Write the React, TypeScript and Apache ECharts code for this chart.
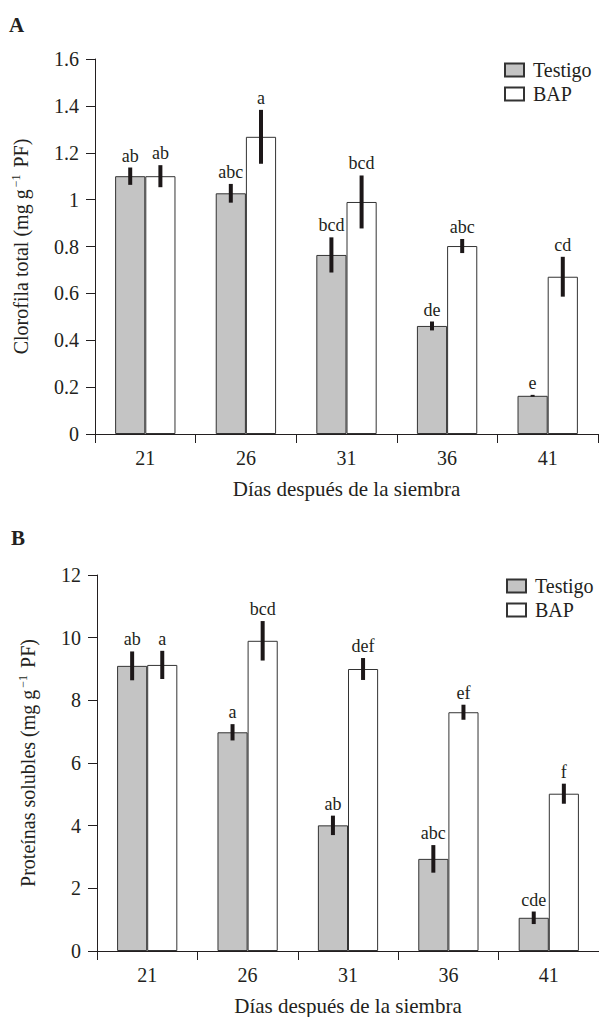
import React, { useEffect, useRef } from "react";
import * as echarts from "echarts";

const categories = ["21", "26", "31", "36", "41"];

const clorofilaTestigo = [1.1, 1.027, 0.764, 0.461, 0.163];
const clorofilaTestigoErr = [0.037, 0.04, 0.075, 0.019, 0.004];
const clorofilaTestigoLabels = ["ab", "abc", "bcd", "de", "e"];
const clorofilaBAP = [1.1, 1.268, 0.99, 0.802, 0.671];
const clorofilaBAPErr = [0.047, 0.115, 0.113, 0.03, 0.085];
const clorofilaBAPLabels = ["ab", "a", "bcd", "abc", "cd"];

const proteinasTestigo = [9.1, 6.98, 4.01, 2.94, 1.06];
const proteinasTestigoErr = [0.46, 0.26, 0.31, 0.44, 0.2];
const proteinasTestigoLabels = ["ab", "a", "ab", "abc", "cde"];
const proteinasBAP = [9.13, 9.9, 9.0, 7.62, 5.02];
const proteinasBAPErr = [0.45, 0.63, 0.35, 0.24, 0.32];
const proteinasBAPLabels = ["a", "bcd", "def", "ef", "f"];

const seriesNames = ["Testigo", "BAP"];
const xName = "Días después de la siembra";

const FONT = '"Liberation Serif", "Times New Roman", serif';
const INK = "#231f20";

function errSeries(
  gridIdx: number,
  values: number[],
  errs: number[],
  labels: string[],
  sign: number
) {
  return {
    type: "custom",
    xAxisIndex: gridIdx,
    yAxisIndex: gridIdx,
    z: 5,
    silent: true,
    encode: { x: 0, y: 1 },
    data: values.map((v, i) => [i, v, errs[i]]),
    renderItem: (params: any, api: any) => {
      const i = api.value(0);
      const v = api.value(1);
      const e = api.value(2);
      const band = api.size([1, 0])[0];
      const x = api.coord([i, v])[0] + sign * band * 0.15;
      const top = api.coord([i, v + e])[1];
      const bot = api.coord([i, v - e])[1];
      return {
        type: "group",
        children: [
          {
            type: "line",
            shape: { x1: x, y1: top, x2: x, y2: Math.max(bot, top + 1.5) },
            style: { stroke: "#1c1718", lineWidth: 4 },
          },
          {
            type: "text",
            x: x,
            y: top - 3,
            style: {
              text: labels[params.dataIndex],
              align: "center",
              verticalAlign: "bottom",
              fontSize: 18,
              fontFamily: FONT,
              fill: INK,
            },
          },
        ],
      };
    },
  };
}

function barSeries(gridIdx: number, name: string, values: number[], color: string) {
  return {
    type: "bar",
    name,
    xAxisIndex: gridIdx,
    yAxisIndex: gridIdx,
    data: values,
    barWidth: "30%",
    barGap: "0%",
    itemStyle: { color, borderColor: "#333333", borderWidth: 1 },
  };
}

function xAxis(gridIdx: number) {
  return {
    type: "category",
    gridIndex: gridIdx,
    data: categories,
    axisLine: { show: true, lineStyle: { color: INK, width: 1 } },
    axisTick: { show: true, length: 9, alignWithLabel: false, lineStyle: { color: INK } },
    axisLabel: { margin: 14, fontSize: 20, fontFamily: FONT, color: INK },
    splitLine: { show: false },
    name: xName,
    nameLocation: "middle",
    nameGap: 44,
    nameTextStyle: { fontSize: 21, fontFamily: FONT, color: INK },
  };
}

function yAxis(gridIdx: number, max: number, interval: number, label: string, gap: number) {
  return {
    type: "value",
    gridIndex: gridIdx,
    min: 0,
    max,
    interval,
    axisLine: { show: true, lineStyle: { color: INK, width: 1 } },
    axisTick: { show: true, length: 9, lineStyle: { color: INK } },
    axisLabel: { margin: 16, fontSize: 20, fontFamily: FONT, color: INK },
    splitLine: { show: false },
    name: `{n|${label} (mg g}{s|−1}{n| PF)}`,
    nameLocation: "middle",
    nameGap: gap,
    nameTextStyle: {
      rich: {
        n: { fontSize: 20, fontFamily: FONT, color: INK, lineHeight: 22 },
        s: { fontSize: 12, fontFamily: FONT, color: INK, verticalAlign: "top", lineHeight: 22, padding: [0, 2, 0, 2] },
      },
    },
  };
}

function legend(left: number, top: number) {
  return {
    data: seriesNames,
    orient: "vertical",
    left,
    top,
    padding: 0,
    icon: "rect",
    itemWidth: 19,
    itemHeight: 13,
    itemGap: 4,
    selectedMode: false,
    textStyle: { fontSize: 20, lineHeight: 20, fontFamily: FONT, color: INK, padding: [0, 0, 0, 4] },
  };
}

export default function App() {
  const ref = useRef<HTMLDivElement>(null);
  useEffect(() => {
    document.body.style.margin = "0";
    if (!ref.current) return;
    const chart = echarts.init(ref.current, null, { renderer: "svg" });
    chart.setOption({
      animation: false,
      backgroundColor: "#ffffff",
      title: [
        { text: "A", left: 9, top: 14, padding: 0, textStyle: { fontSize: 21, fontWeight: "bold", fontFamily: FONT, color: INK } },
        { text: "B", left: 11, top: 527, padding: 0, textStyle: { fontSize: 21, fontWeight: "bold", fontFamily: FONT, color: INK } },
      ],
      legend: [legend(504, 60), legend(506, 576)],
      grid: [
        { left: 95, right: 1, top: 59, height: 375 },
        { left: 97, right: 0, top: 575, height: 376 },
      ],
      xAxis: [xAxis(0), xAxis(1)],
      yAxis: [
        yAxis(0, 1.6, 0.2, "Clorofila total", 63),
        yAxis(1, 12, 2, "Proteínas solubles", 58),
      ],
      series: [
        barSeries(0, "Testigo", clorofilaTestigo, "#c4c4c4"),
        barSeries(0, "BAP", clorofilaBAP, "#ffffff"),
        barSeries(1, "Testigo", proteinasTestigo, "#c4c4c4"),
        barSeries(1, "BAP", proteinasBAP, "#ffffff"),
        errSeries(0, clorofilaTestigo, clorofilaTestigoErr, clorofilaTestigoLabels, -1),
        errSeries(0, clorofilaBAP, clorofilaBAPErr, clorofilaBAPLabels, 1),
        errSeries(1, proteinasTestigo, proteinasTestigoErr, proteinasTestigoLabels, -1),
        errSeries(1, proteinasBAP, proteinasBAPErr, proteinasBAPLabels, 1),
      ],
    });
    return () => chart.dispose();
  }, []);
  return <div ref={ref} style={{ width: 599, height: 1017 }} />;
}
